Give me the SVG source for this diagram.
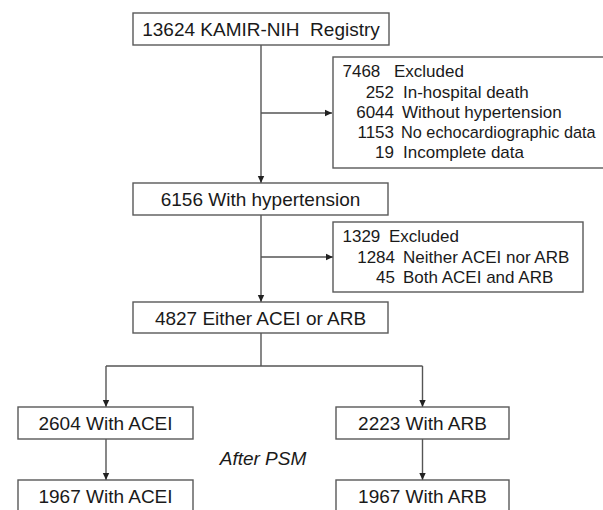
<svg xmlns="http://www.w3.org/2000/svg" width="603" height="510" viewBox="0 0 603 510">
<style>
.box{fill:#fff;stroke:#595959;stroke-width:1.4}
.t{font-family:"Liberation Sans",Arial,sans-serif;font-size:19px;fill:#1a1a1a}
.s{font-family:"Liberation Sans",Arial,sans-serif;font-size:17px;fill:#1a1a1a}
.c{stroke:#555;stroke-width:1.4;fill:none}
</style>
<defs>
<marker id="ah" markerWidth="8" markerHeight="8" refX="7" refY="4" orient="auto" markerUnits="userSpaceOnUse">
<path d="M0,0.8 L7,4 L0,7.2 Z" fill="#222"/>
</marker>
</defs>
<rect width="603" height="510" fill="#fff"/>
<g id="connectors">
<line class="c" x1="261" y1="45" x2="261" y2="183" marker-end="url(#ah)"/>
<line class="c" x1="261" y1="113" x2="332" y2="113" marker-end="url(#ah)"/>
<line class="c" x1="261" y1="215" x2="261" y2="302" marker-end="url(#ah)"/>
<line class="c" x1="261" y1="257" x2="333" y2="257" marker-end="url(#ah)"/>
<polyline class="c" points="261,333 261,366"/>
<polyline class="c" points="106,366 422.5,366"/>
<line class="c" x1="106" y1="366" x2="106" y2="407" marker-end="url(#ah)"/>
<line class="c" x1="422.5" y1="366" x2="422.5" y2="407" marker-end="url(#ah)"/>
<line class="c" x1="106" y1="439" x2="106" y2="480" marker-end="url(#ah)"/>
<line class="c" x1="422.5" y1="439" x2="422.5" y2="480" marker-end="url(#ah)"/>
</g>
<g id="registry">
<rect class="box" x="133" y="13" width="256" height="32"/>
<text class="t" x="261" y="36" text-anchor="middle" xml:space="preserve">13624 KAMIR-NIH  Registry</text>
</g>
<g id="excluded1">
<rect class="box" x="333" y="57" width="280" height="111"/>
<text class="s" x="342.5" y="77">7468</text>
<text class="s" x="394" y="77">Excluded</text>
<text class="s" x="394" y="98" text-anchor="end">252</text>
<text class="s" x="403" y="98">In-hospital death</text>
<text class="s" x="394" y="118" text-anchor="end">6044</text>
<text class="s" x="402" y="118">Without hypertension</text>
<text class="s" x="394" y="138" text-anchor="end">1153</text>
<text class="s" x="401" y="138" style="font-size:16.3px">No echocardiographic data</text>
<text class="s" x="394" y="158" text-anchor="end">19</text>
<text class="s" x="403" y="158">Incomplete data</text>
</g>
<g id="hypertension">
<rect class="box" x="133" y="183" width="255" height="32"/>
<text class="t" x="260.5" y="206" text-anchor="middle">6156 With hypertension</text>
</g>
<g id="excluded2">
<rect class="box" x="333" y="222" width="250" height="70"/>
<text class="s" x="342.5" y="242">1329</text>
<text class="s" x="389" y="242">Excluded</text>
<text class="s" x="395" y="263" text-anchor="end">1284</text>
<text class="s" x="403" y="263">Neither ACEI nor ARB</text>
<text class="s" x="395" y="283" text-anchor="end">45</text>
<text class="s" x="403" y="283">Both ACEI and ARB</text>
</g>
<g id="either">
<rect class="box" x="133" y="302" width="255" height="31"/>
<text class="t" x="260.5" y="324.5" text-anchor="middle">4827 Either ACEI or ARB</text>
</g>
<g id="acei">
<rect class="box" x="18" y="407" width="175" height="32"/>
<text class="t" x="105.5" y="429.5" text-anchor="middle">2604 With ACEI</text>
</g>
<g id="arb">
<rect class="box" x="336" y="407" width="173" height="32"/>
<text class="t" x="422.5" y="429.5" text-anchor="middle">2223 With ARB</text>
</g>
<g id="psm">
<text class="t" x="263" y="465" text-anchor="middle" font-style="italic">After PSM</text>
</g>
<g id="acei2">
<rect class="box" x="18" y="480" width="175" height="34"/>
<text class="t" x="105.5" y="503" text-anchor="middle">1967 With ACEI</text>
</g>
<g id="arb2">
<rect class="box" x="336" y="480" width="173" height="34"/>
<text class="t" x="422.5" y="503" text-anchor="middle">1967 With ARB</text>
</g>
</svg>
